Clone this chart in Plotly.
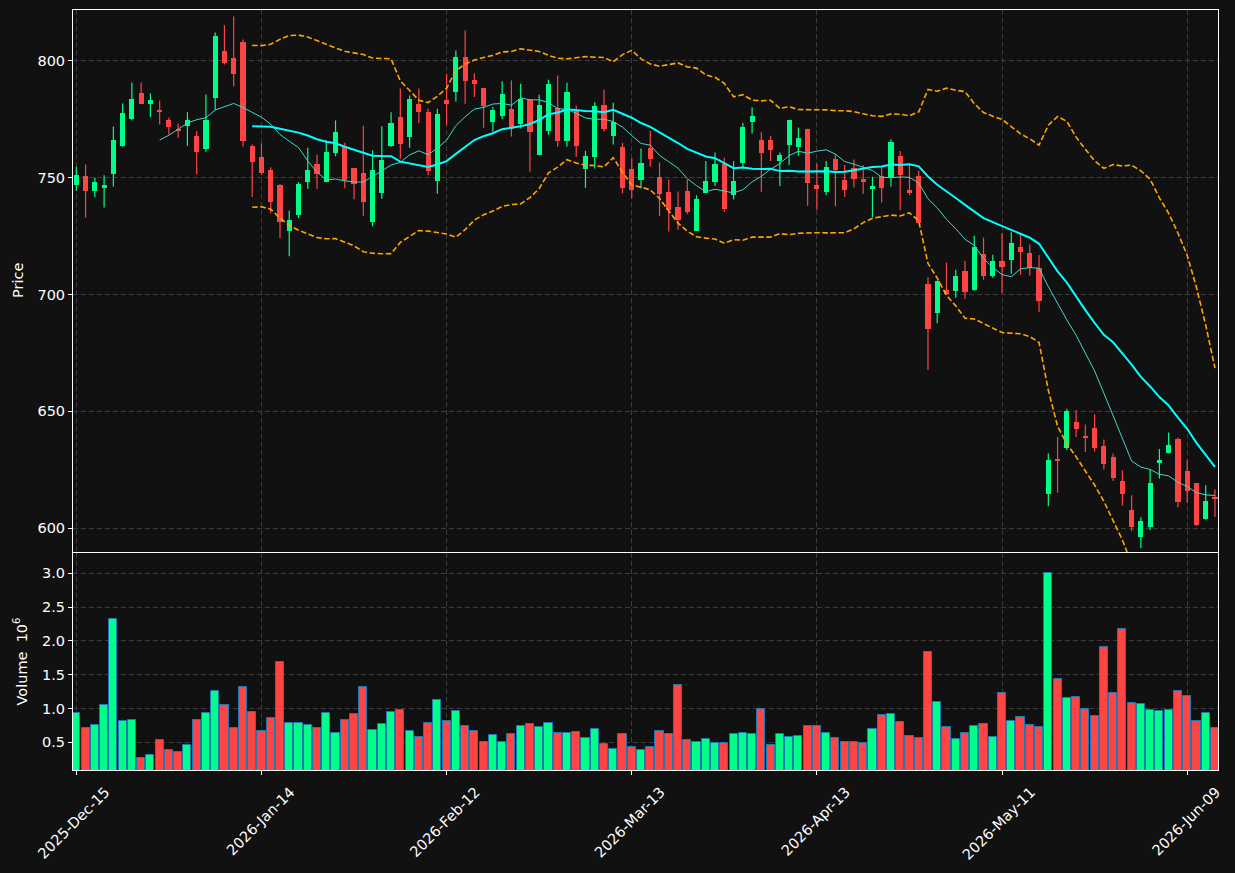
import numpy as np
import pandas as pd
import plotly.graph_objects as go
from plotly.subplots import make_subplots

# ---- data ----
opens = [746.9, 750.6, 744.3, 745.6, 751.6, 763.4, 774.9, 786.0, 781.5, 778.7,
         774.5, 770.3, 771.9, 767.7, 762.1, 783.9, 804.0, 801.0, 807.8, 763.4,
         758.7, 753.0, 747.0, 727.0, 734.1, 748.0, 755.6, 748.0, 760.3, 763.3,
         753.9, 752.1, 730.9, 743.3, 763.3, 775.7, 767.1, 781.3, 777.9, 748.5,
         783.0, 786.5, 801.3, 791.5, 788.1, 773.7, 776.3, 779.4, 772.7, 783.2,
         759.5, 769.7, 779.8, 765.5, 778.7, 753.7, 758.8, 780.8, 767.8, 762.9,
         753.6, 749.0, 762.6, 750.0, 743.7, 737.3, 744.1, 727.2, 743.4, 748.1,
         755.9, 742.7, 756.3, 773.7, 766.0, 766.0, 756.9, 763.9, 763.1, 770.7,
         746.7, 743.7, 757.9, 748.9, 754.0, 749.3, 745.0, 750.6, 750.0, 759.1,
         744.6, 750.6, 704.3, 692.0, 702.1, 701.3, 709.9, 702.0, 717.4, 707.9,
         714.1, 714.9, 720.5, 717.8, 711.5, 614.7, 629.5, 634.4, 645.4, 639.4,
         642.8, 635.1, 630.4, 620.2, 607.8, 596.4, 600.7, 628.0, 632.3, 638.1,
         624.6, 619.2, 604.1, 613.5]
highs = [754.6, 755.6, 750.0, 751.0, 771.8, 781.6, 790.6, 790.6, 785.9, 782.9,
         775.6, 773.1, 777.9, 769.9, 785.5, 812.0, 815.1, 818.8, 809.0, 764.1,
         764.6, 754.4, 747.2, 735.9, 748.0, 762.7, 759.7, 765.9, 774.4, 764.9,
         754.0, 772.1, 761.6, 771.9, 777.9, 788.0, 785.1, 788.0, 779.4, 779.4,
         794.4, 804.3, 812.8, 794.6, 788.2, 780.1, 791.1, 791.5, 790.1, 783.3,
         785.4, 791.8, 793.6, 790.5, 780.8, 761.4, 782.2, 787.5, 782.0, 764.8,
         758.1, 762.4, 770.0, 756.4, 749.1, 744.0, 749.1, 742.4, 757.0, 760.7,
         758.4, 757.0, 773.4, 780.0, 769.3, 767.8, 760.7, 774.6, 771.4, 770.8,
         756.0, 757.0, 760.0, 755.3, 757.7, 755.3, 750.3, 754.6, 766.3, 761.3,
         755.6, 752.9, 707.4, 705.9, 713.6, 710.6, 714.4, 725.1, 724.3, 717.0,
         726.4, 726.6, 725.9, 721.3, 716.9, 632.0, 639.1, 651.1, 650.5, 644.4,
         648.8, 638.0, 632.0, 624.9, 614.2, 604.8, 625.2, 633.9, 641.0, 638.8,
         629.2, 619.3, 618.4, 616.6]
lows = [744.4, 732.9, 741.5, 737.2, 746.2, 763.1, 774.5, 781.5, 775.9, 772.6,
        768.4, 767.0, 763.5, 751.3, 761.0, 778.8, 798.3, 788.9, 763.2, 741.7,
        751.2, 734.7, 724.1, 716.3, 732.7, 745.1, 745.1, 748.0, 759.1, 745.4,
        740.7, 733.6, 729.1, 740.9, 763.0, 758.0, 762.7, 773.3, 751.0, 743.0,
        772.3, 782.5, 781.5, 784.4, 771.3, 769.5, 774.9, 767.5, 770.9, 752.4,
        759.5, 768.3, 763.1, 763.1, 758.8, 745.6, 753.8, 769.7, 764.1, 743.2,
        741.0, 745.3, 754.6, 733.6, 726.9, 727.7, 734.3, 727.2, 743.4, 746.4,
        735.3, 740.6, 754.1, 768.8, 743.9, 757.1, 746.4, 755.3, 759.3, 737.9,
        736.2, 742.4, 737.7, 741.7, 745.7, 742.9, 733.1, 739.3, 746.0, 736.0,
        742.4, 730.6, 667.7, 687.7, 700.0, 698.6, 698.1, 701.6, 706.3, 707.1,
        700.6, 708.8, 708.4, 708.1, 692.5, 609.5, 615.2, 633.4, 639.1, 632.7,
        632.9, 625.2, 620.3, 609.8, 598.9, 591.5, 599.3, 621.3, 632.0, 609.0,
        611.0, 601.1, 603.7, 605.0]
closes = [751.0, 744.3, 748.0, 746.8, 766.0, 777.5, 783.5, 781.5, 783.2, 778.2,
          771.7, 769.9, 774.5, 761.0, 774.5, 810.4, 798.9, 794.3, 765.7, 756.7,
          752.0, 739.7, 730.9, 732.0, 747.4, 753.4, 751.3, 760.7, 769.3, 749.0,
          747.1, 739.4, 753.0, 757.3, 773.1, 764.3, 783.4, 778.0, 752.7, 777.0,
          781.4, 801.3, 791.2, 789.9, 780.4, 778.7, 785.9, 770.7, 783.4, 769.5,
          780.8, 789.8, 765.5, 786.4, 763.5, 759.1, 780.4, 770.6, 773.7, 745.5,
          744.7, 756.1, 758.0, 743.0, 736.3, 731.7, 735.3, 740.7, 748.4, 755.7,
          736.6, 748.4, 771.6, 776.3, 760.6, 761.7, 759.6, 774.6, 766.9, 747.7,
          745.0, 754.4, 753.1, 744.6, 749.3, 748.0, 746.3, 745.6, 765.1, 750.9,
          743.4, 730.6, 685.1, 705.9, 700.0, 708.1, 701.0, 720.1, 707.9, 714.1,
          711.7, 722.2, 718.3, 711.5, 697.2, 629.2, 629.1, 650.1, 642.4, 638.5,
          634.3, 627.5, 621.5, 614.7, 600.7, 603.1, 619.2, 629.2, 635.6, 611.4,
          616.1, 601.4, 611.7, 612.4]
volumes_m = [0.935, 0.717, 0.762, 1.053, 2.328, 0.816, 0.831, 0.268, 0.312, 0.535,
             0.386, 0.357, 0.460, 0.831, 0.935, 1.266, 1.053, 0.717, 1.320, 0.950,
             0.673, 0.861, 1.681, 0.787, 0.787, 0.757, 0.717, 0.935, 0.643, 0.831,
             0.920, 1.320, 0.688, 0.772, 0.950, 0.984, 0.668, 0.584, 0.787, 1.132,
             0.821, 0.964, 0.742, 0.668, 0.505, 0.609, 0.505, 0.624, 0.747, 0.772,
             0.732, 0.787, 0.643, 0.643, 0.653, 0.569, 0.703, 0.480, 0.406, 0.624,
             0.436, 0.386, 0.436, 0.668, 0.624, 1.350, 0.535, 0.505, 0.549, 0.490,
             0.490, 0.624, 0.638, 0.624, 0.994, 0.460, 0.624, 0.579, 0.594, 0.742,
             0.742, 0.638, 0.564, 0.505, 0.505, 0.490, 0.698, 0.905, 0.920, 0.801,
             0.594, 0.564, 1.839, 1.098, 0.727, 0.549, 0.638, 0.742, 0.772, 0.579,
             1.231, 0.816, 0.875, 0.757, 0.727, 3.000, 1.439, 1.157, 1.172, 0.994,
             0.890, 1.913, 1.231, 2.180, 1.083, 1.068, 0.979, 0.964, 0.979, 1.261,
             1.187, 0.816, 0.935, 0.712]
tick_positions = [0, 20, 40, 60, 80, 100, 120]
tick_labels = ["2025-Dec-15", "2026-Jan-14", "2026-Feb-12", "2026-Mar-13",
               "2026-Apr-13", "2026-May-11", "2026-Jun-09"]

# ---- styling ----
BG = "#111111"
UP = "#00ff88"
DOWN = "#ff4444"
GRID = "#3c3c3c"
FONT = "DejaVu Sans"
FS = 14.5

df = pd.DataFrame({"open": opens, "high": highs, "low": lows, "close": closes,
                   "volume": volumes_m})
idx = np.arange(len(df))
up = (df["close"] >= df["open"]).to_numpy()
colors = np.where(up, UP, DOWN)

ma10 = df["close"].rolling(10).mean()
ma20 = df["close"].rolling(20).mean()
sd20 = df["close"].rolling(20).std(ddof=0)
bb_up = ma20 + 2 * sd20
bb_lo = ma20 - 2 * sd20

fig = make_subplots(rows=2, cols=1, shared_xaxes=True, vertical_spacing=0.0013,
                    row_heights=[0.714, 0.286])

# wicks
for mask, col in ((up, UP), (~up, DOWN)):
    xs, ys = [], []
    for i in idx[mask]:
        xs += [i, i, None]
        ys += [df["low"][i], df["high"][i], None]
    fig.add_trace(go.Scatter(x=xs, y=ys, mode="lines",
                             line=dict(color=col, width=1.2),
                             hoverinfo="skip", showlegend=False), row=1, col=1)

# bodies
body_base = np.minimum(df["open"], df["close"])
body_h = np.maximum(np.abs(df["close"] - df["open"]), 0.45)
fig.add_trace(go.Bar(x=idx, y=body_h, base=body_base, width=0.56,
                     marker=dict(color=colors, line=dict(width=0)),
                     showlegend=False), row=1, col=1)

# moving averages and bands
fig.add_trace(go.Scatter(x=idx, y=ma10, mode="lines",
                         line=dict(color="#40d8c8", width=1),
                         showlegend=False), row=1, col=1)
fig.add_trace(go.Scatter(x=idx, y=ma20, mode="lines",
                         line=dict(color="#00ffff", width=2),
                         showlegend=False), row=1, col=1)
for band in (bb_up, bb_lo):
    fig.add_trace(go.Scatter(x=idx, y=band, mode="lines",
                             line=dict(color="#ffa500", width=1.6, dash="5.5px,2.6px"),
                             showlegend=False), row=1, col=1)

# volume
fig.add_trace(go.Bar(x=idx, y=df["volume"], width=0.88,
                     marker=dict(color=colors, line=dict(color="#1f77b4", width=1)),
                     showlegend=False), row=2, col=1)

axis_common = dict(showline=True, mirror=True, linecolor="white", linewidth=1,
                   showgrid=True, gridcolor=GRID, griddash="5px,3px", gridwidth=1,
                   zeroline=False, automargin=False,
                   tickfont=dict(family=FONT, size=FS, color="white"),
                   ticks="outside", tickcolor="white", ticklen=4)

xr = [-0.36, 123.33]
fig.update_xaxes(range=xr, tickvals=tick_positions, ticktext=tick_labels,
                 **axis_common)
fig.update_xaxes(showticklabels=False, ticks="", row=1, col=1)
fig.update_xaxes(tickangle=-45, ticklabelshift=29, ticklabelstandoff=3,
                 row=2, col=1)

fig.update_yaxes(**axis_common)
fig.update_yaxes(range=[589.9, 821.6], tickvals=[600, 650, 700, 750, 800],
                 domain=[(770 - 552) / 760, 1.0], row=1, col=1)
fig.update_yaxes(range=[0.09, 3.30], tickvals=[0.5, 1.0, 1.5, 2.0, 2.5, 3.0],
                 tickformat=".1f", domain=[0.0, (770 - 553) / 760], row=2, col=1)

W_PLOT = 1218 - 73
fig.add_annotation(text="Price", xref="paper", yref="paper",
                   x=(18 - 73) / W_PLOT, y=(770 - 281) / 760,
                   xanchor="center", yanchor="middle", textangle=-90,
                   showarrow=False, font=dict(family=FONT, size=FS, color="white"))
fig.add_annotation(text="Volume  10<sup>6</sup>", xref="paper", yref="paper",
                   x=(20 - 73) / W_PLOT, y=(770 - 661.5) / 760,
                   xanchor="center", yanchor="middle", textangle=-90,
                   showarrow=False, font=dict(family=FONT, size=FS, color="white"))

fig.update_layout(template="none", width=1235, height=873,
                  margin=dict(l=73, r=17, t=10, b=103),
                  paper_bgcolor=BG, plot_bgcolor=BG, barmode="overlay",
                  bargap=0, showlegend=False,
                  font=dict(family=FONT, color="white"))

fig.write_html("out.html")
